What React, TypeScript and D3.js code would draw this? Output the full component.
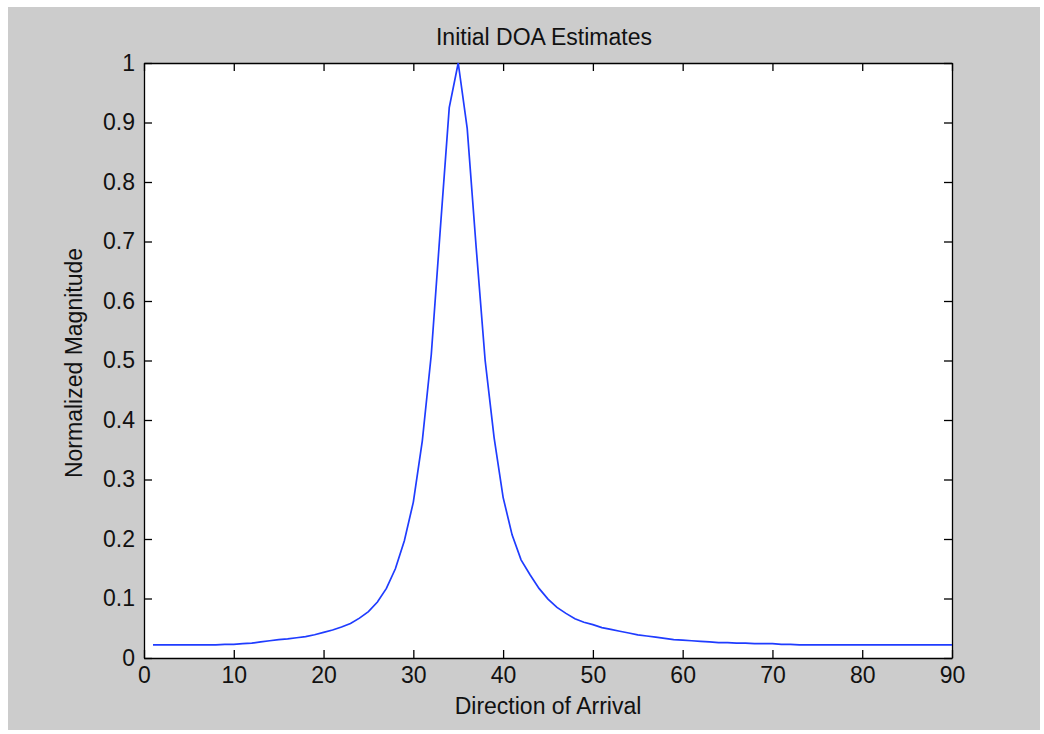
import React, { useEffect, useRef } from 'react';
import * as d3 from 'd3';

// direction of arrival (degrees) and normalized magnitude
const angles: number[] = [
	1, 2, 3, 4, 5, 6, 7, 8, 9, 10,
	11, 12, 13, 14, 15, 16, 17, 18, 19, 20,
	21, 22, 23, 24, 25, 26, 27, 28, 29, 30,
	31, 32, 33, 34, 35, 36, 37, 38, 39, 40,
	41, 42, 43, 44, 45, 46, 47, 48, 49, 50,
	51, 52, 53, 54, 55, 56, 57, 58, 59, 60,
	61, 62, 63, 64, 65, 66, 67, 68, 69, 70,
	71, 72, 73, 74, 75, 76, 77, 78, 79, 80,
	81, 82, 83, 84, 85, 86, 87, 88, 89, 90,
];
const magnitude: number[] = [
	0.022, 0.022, 0.022, 0.022, 0.022, 0.022, 0.022, 0.022, 0.023, 0.023,
	0.024, 0.025, 0.027, 0.029, 0.031, 0.032, 0.034, 0.036, 0.039, 0.043,
	0.047, 0.052, 0.058, 0.067, 0.078, 0.094, 0.117, 0.150, 0.197, 0.262,
	0.365, 0.510, 0.720, 0.925, 1.000, 0.890, 0.690, 0.500, 0.370, 0.270,
	0.207, 0.165, 0.140, 0.117, 0.099, 0.085, 0.075, 0.066, 0.060, 0.056,
	0.051, 0.048, 0.045, 0.042, 0.039, 0.037, 0.035, 0.033, 0.031, 0.030,
	0.029, 0.028, 0.027, 0.026, 0.026, 0.025, 0.025, 0.024, 0.024, 0.024,
	0.023, 0.023, 0.022, 0.022, 0.022, 0.022, 0.022, 0.022, 0.022, 0.022,
	0.022, 0.022, 0.022, 0.022, 0.022, 0.022, 0.022, 0.022, 0.022, 0.022,
];
const xTicks: number[] = [0, 10, 20, 30, 40, 50, 60, 70, 80, 90];
const yTicks: number[] = [0, 0.1, 0.2, 0.3, 0.4, 0.5, 0.6, 0.7, 0.8, 0.9, 1];

const W = 1044, H = 734;
const left = 144, right = 952, top = 63, bottom = 658;
const font = 'Arial, "Liberation Sans", sans-serif';
const fontSize = '23px';

const App = () => {
	const ref = useRef<SVGSVGElement>(null);

	useEffect(() => {
		let svg = d3.select(ref.current);
		svg.selectAll('*').remove();

		// figure background
		svg.append('rect').attr('x', 8).attr('y', 7).attr('width', 1032).attr('height', 723).attr('fill', '#cccccc');
		svg.append('rect').attr('x', left).attr('y', top).attr('width', right - left).attr('height', bottom - top).attr('fill', '#ffffff');

		let xScale = d3.scaleLinear().domain([0, 90]).range([left, right]);
		let yScale = d3.scaleLinear().domain([0, 1]).range([bottom, top]);

		const fmt = (d: number) => String(+d.toFixed(1));

		// ticks pointing inward on all four sides
		svg.append('g').attr('transform', `translate(0,${bottom})`)
			.call(d3.axisBottom(xScale).tickValues(xTicks).tickSizeInner(-8).tickSizeOuter(0).tickPadding(9).tickFormat(fmt as any));
		svg.append('g').attr('transform', `translate(0,${top})`)
			.call(d3.axisTop(xScale).tickValues(xTicks).tickSizeInner(-8).tickSizeOuter(0).tickFormat(() => ''));
		svg.append('g').attr('transform', `translate(${left},0)`)
			.call(d3.axisLeft(yScale).tickValues(yTicks).tickSizeInner(-8).tickSizeOuter(0).tickPadding(9).tickFormat(fmt as any));
		svg.append('g').attr('transform', `translate(${right},0)`)
			.call(d3.axisRight(yScale).tickValues(yTicks).tickSizeInner(-8).tickSizeOuter(0).tickFormat(() => ''));

		svg.selectAll('.domain').attr('stroke', '#000').attr('stroke-width', 1.3);
		svg.selectAll('.tick line').attr('stroke', '#000').attr('stroke-width', 1.3);
		svg.selectAll('.tick text').attr('fill', '#111').style('font-family', font).style('font-size', fontSize);

		let line = d3.line<number>()
			.x((d, i) => xScale(angles[i]))
			.y(d => yScale(d));

		svg.append('path')
			.datum(magnitude)
			.attr('d', line)
			.attr('fill', 'none')
			.attr('stroke', '#1f3cff')
			.attr('stroke-width', 1.7);

		svg.append('text')
			.text('Initial DOA Estimates')
			.attr('x', 544)
			.attr('y', 45)
			.attr('text-anchor', 'middle')
			.attr('fill', '#111')
			.style('font-family', font)
			.style('font-size', fontSize);

		svg.append('text')
			.text('Direction of Arrival')
			.attr('x', (left + right) / 2)
			.attr('y', 714)
			.attr('text-anchor', 'middle')
			.attr('fill', '#111')
			.style('font-family', font)
			.style('font-size', fontSize);

		svg.append('text')
			.text('Normalized Magnitude')
			.attr('transform', `translate(82,363) rotate(-90)`)
			.attr('text-anchor', 'middle')
			.attr('fill', '#111')
			.style('font-family', font)
			.style('font-size', fontSize);
	}, []);

	return (
		<svg ref={ref} width={W} height={H} style={{ position: 'absolute', left: 0, top: 0, display: 'block' }}></svg>
	);
};

export default App;
